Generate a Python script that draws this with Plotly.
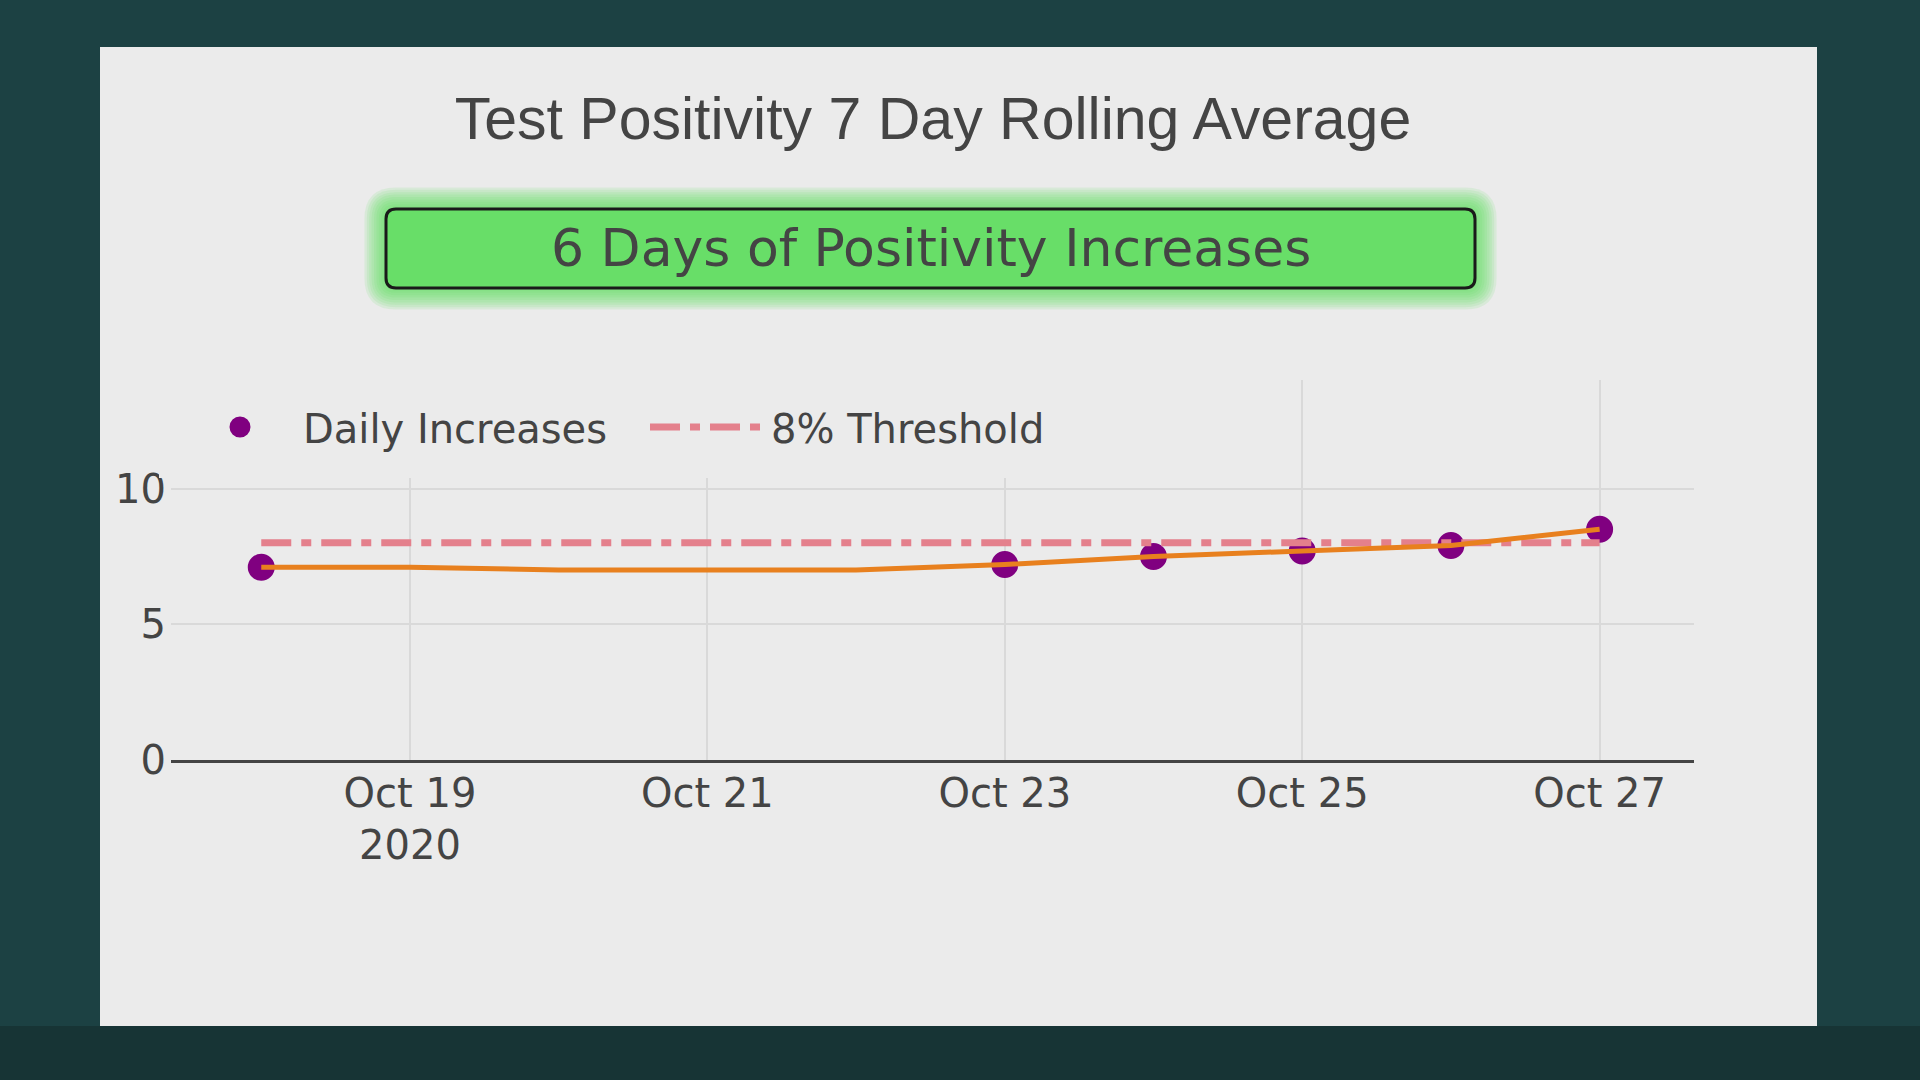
import plotly.graph_objects as go

# ---------------- data ----------------
marker_dates = ["2020-10-18", "2020-10-23", "2020-10-24", "2020-10-25", "2020-10-26", "2020-10-27"]
marker_values = [7.1, 7.2, 7.5, 7.7, 7.9, 8.5]

avg_dates = ["2020-10-18", "2020-10-19", "2020-10-20", "2020-10-21", "2020-10-22",
             "2020-10-23", "2020-10-24", "2020-10-25", "2020-10-26", "2020-10-27"]
avg_values = [7.1, 7.1, 7.0, 7.0, 7.0, 7.2, 7.5, 7.7, 7.9, 8.5]

threshold_dates = ["2020-10-18", "2020-10-27"]
threshold_values = [8, 8]

series_names = ["Daily Increases", "8% Threshold"]
title_text = "Test Positivity 7 Day Rolling Average"
banner_text = "6 Days of Positivity Increases"
x_range = ["2020-10-17 09:26", "2020-10-27 15:14"]
y_range = [0, 14]
x_tick0 = "2020-10-19"

# ---------------- layout geometry (pixels) ----------------
W, H = 1920, 1080
PL, PR, PT, PB = 171, 1694, 380, 760


def fx(px):
    return (px - PL) / (PR - PL)


def fy(py):
    return (PB - py) / (PB - PT)


def rrect(x0, y0, x1, y1, r):
    pts = [
        ("M", [(x0 + r, y0)]),
        ("L", [(x1 - r, y0)]),
        ("Q", [(x1, y0), (x1, y0 + r)]),
        ("L", [(x1, y1 - r)]),
        ("Q", [(x1, y1), (x1 - r, y1)]),
        ("L", [(x0 + r, y1)]),
        ("Q", [(x0, y1), (x0, y1 - r)]),
        ("L", [(x0, y0 + r)]),
        ("Q", [(x0, y0), (x0 + r, y0)]),
    ]
    s = ""
    for cmd, ps in pts:
        s += cmd + " ".join(f"{fx(a):.5f},{fy(b):.5f}" for a, b in ps) + " "
    return s + "Z"


FONT_TICK = dict(family="DejaVu Sans", size=40, color="#444444")
FONT_TITLE = dict(family="Liberation Sans, Arial", size=59, color="#444444")

LEG_BW = 18
LEG_ITEMW = 116

fig = go.Figure()

fig.add_trace(go.Scatter(
    x=marker_dates, y=marker_values, mode="markers", name=series_names[0],
    marker=dict(color="#800080", size=22, line=dict(color="#800080", width=5)),
    legendwidth=337,
))
fig.add_trace(go.Scatter(
    x=threshold_dates, y=threshold_values, mode="lines", name=series_names[1],
    line=dict(color="#E4808C", width=7, dash="30px,10px,10px,10px"),
))
fig.add_trace(go.Scatter(
    x=avg_dates, y=avg_values, mode="lines", showlegend=False,
    line=dict(color="#E8801E", width=5),
))

shapes = []
# darker strip of the backdrop below the panel
shapes.append(dict(type="rect", xref="paper", yref="paper", layer="below",
                   x0=fx(0), x1=fx(W), y0=fy(H), y1=fy(1026),
                   fillcolor="#173435", line=dict(width=0)))
# light panel
shapes.append(dict(type="rect", xref="paper", yref="paper", layer="below",
                   x0=fx(100), x1=fx(1817), y0=fy(1026), y1=fy(47),
                   fillcolor="#EBEBEB", line=dict(width=0)))
# glow around banner
bx0, by0, bx1, by1 = 386, 209, 1475, 288
for k in range(1, 10):
    e = 2.4 * k
    shapes.append(dict(type="path", xref="paper", yref="paper", layer="below",
                       path=rrect(bx0 - e, by0 - e, bx1 + e, by1 + e, 10 + e),
                       fillcolor="rgba(95,222,95,0.13)", line=dict(width=0)))
# banner box
shapes.append(dict(type="path", xref="paper", yref="paper", layer="below",
                   path=rrect(bx0, by0, bx1, by1, 10),
                   fillcolor="#68DE68", line=dict(color="#1a1a1a", width=3)))

fig.update_layout(
    width=W, height=H,
    margin=dict(l=PL, r=W - PR, t=PT, b=H - PB, pad=0),
    paper_bgcolor="#1C4143",
    plot_bgcolor="rgba(0,0,0,0)",
    title=dict(text=title_text, font=FONT_TITLE, x=933 / W, xref="container",
               xanchor="center", y=1 - 118 / H, yref="container", yanchor="middle"),
    shapes=shapes,
    annotations=[dict(text=banner_text, x=fx(930.5), y=fy(248), xref="paper", yref="paper",
                      showarrow=False, xanchor="center", yanchor="middle",
                      font=dict(family="DejaVu Sans", size=52, color="#444444"))],
    legend=dict(orientation="h", x=fx(177 - LEG_BW), xanchor="left", y=fy(427), yanchor="middle",
                bgcolor="#EBEBEB", bordercolor="#EBEBEB", borderwidth=LEG_BW,
                font=FONT_TICK, itemwidth=LEG_ITEMW),
    xaxis=dict(type="date", range=x_range, tickmode="linear", tick0=x_tick0,
               dtick=2 * 86400000, showgrid=True, gridcolor="#D9D9D9", gridwidth=1.5,
               showline=True, linecolor="#444444", linewidth=3, zeroline=False,
               ticks="", tickfont=FONT_TICK, ticklabelstandoff=-4),
    yaxis=dict(range=y_range, tickmode="linear", tick0=0, dtick=5, showgrid=True,
               gridcolor="#D9D9D9", gridwidth=1.5, zeroline=False, showline=False,
               ticks="", tickfont=FONT_TICK, ticklabelstandoff=4),
)

fig.write_html("out.html")
